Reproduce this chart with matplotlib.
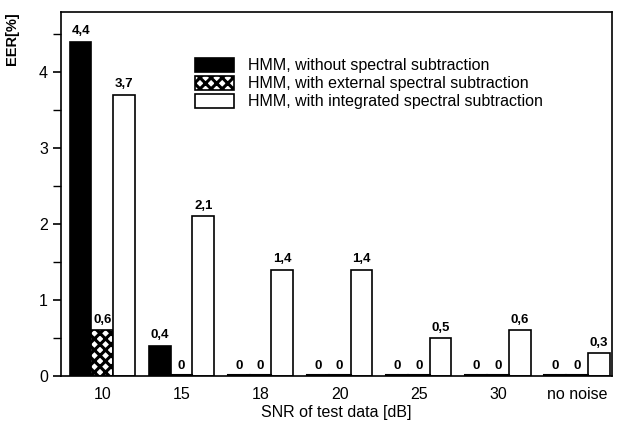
import numpy as np
import matplotlib.pyplot as plt

plt.rcParams['font.family'] = ['Liberation Sans', 'DejaVu Sans']
plt.rcParams['hatch.linewidth'] = 2.2

snr = ['10', '15', '18', '20', '25', '30', 'no noise']
no_ss = [4.4, 0.4, 0, 0, 0, 0, 0]
ext_ss = [0.6, 0, 0, 0, 0, 0, 0]
int_ss = [3.7, 2.1, 1.4, 1.4, 0.5, 0.6, 0.3]
names = ['HMM, without spectral subtraction',
         'HMM, with external spectral subtraction',
         'HMM, with integrated spectral subtraction']

fig = plt.figure(figsize=(6.18, 4.24), dpi=100)
ax = fig.add_axes([0.099, 0.113, 0.891, 0.859])

x = np.arange(len(snr))
w = 0.275
b1 = ax.bar(x - w, no_ss, w, color='black', edgecolor='black', lw=1.2, label=names[0])
b2 = ax.bar(x, ext_ss, w, color='white', edgecolor='black', hatch='xxx', lw=1.2, label=names[1])
b3 = ax.bar(x + w, int_ss, w, color='white', edgecolor='black', lw=1.2, label=names[2])

# zero bars show as a thin line on the axis
for xs, vals in [(x - w, no_ss), (x, ext_ss)]:
    for xi, v in zip(xs, vals):
        if v == 0:
            ax.plot([xi - w / 2, xi + w / 2], [0.01, 0.01], color='black', lw=1.5)

def fmt(v):
    return ('%g' % v).replace('.', ',')

for bars, vals in [(b1, no_ss), (b2, ext_ss), (b3, int_ss)]:
    for bar, v in zip(bars, vals):
        ax.text(bar.get_x() + bar.get_width() / 2, v + 0.06, fmt(v),
                ha='center', va='bottom', fontsize=9.5, fontweight='bold')

ax.set_xlim(-0.52, 6.44)
ax.set_ylim(0, 4.79)
ax.set_xticks(x)
ax.set_xticklabels(snr, fontsize=11.5)
ax.set_yticks([0, 1, 2, 3, 4])
ax.set_yticks(np.arange(0.5, 4.6, 1.0), minor=True)
ax.tick_params(axis='y', labelsize=11.5, length=6, width=1.2)
ax.tick_params(axis='y', which='minor', length=6, width=1.0)
ax.tick_params(axis='x', length=0, pad=8)
for s in ax.spines.values():
    s.set_linewidth(1.2)

ax.set_xlabel('SNR of test data [dB]', fontsize=11.5, labelpad=2)
fig.text(0.02, 0.91, 'EER[%]', rotation=90, ha='center', va='center',
         fontsize=10.5, fontweight='bold')

ax.legend(loc='upper left', bbox_to_anchor=(0.232, 0.89), frameon=False,
          fontsize=11.5, handlelength=2.4, handleheight=0.9,
          labelspacing=0.18, handletextpad=0.9, borderaxespad=0)

fig.savefig('out.png', dpi=100)
